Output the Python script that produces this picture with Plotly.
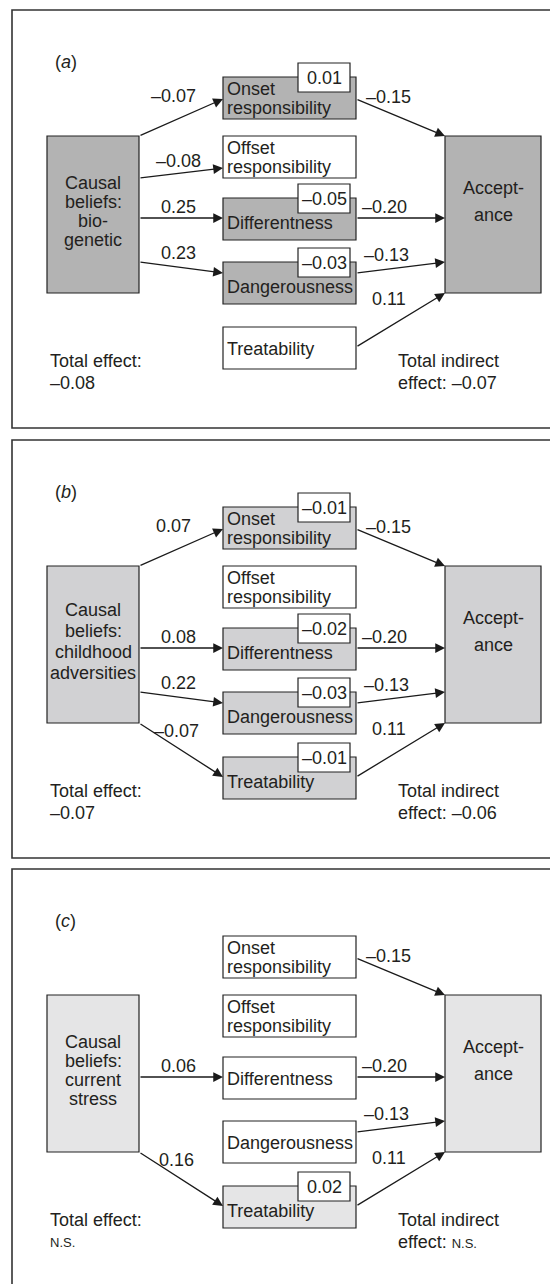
import plotly.graph_objects as go

# ---------------- data ----------------
panel_letters = ["a", "b", "c"]
cause_labels = [
    "Causal\nbeliefs:\nbio-\ngenetic",
    "Causal\nbeliefs:\nchildhood\nadversities",
    "Causal\nbeliefs:\ncurrent\nstress",
]
mediator_labels = ["Onset\nresponsibility", "Offset\nresponsibility",
                   "Differentness", "Dangerousness", "Treatability"]
outcome_label = "Accept-\nance"

# cause -> mediator path coefficients (None = no path drawn)
path_a_biogenetic = [-0.07, -0.08, 0.25, 0.23, None]
path_a_childhood = [0.07, None, 0.08, 0.22, -0.07]
path_a_stress = [None, None, 0.06, None, 0.16]
# mediator -> acceptance path coefficients (same in all panels)
path_b = [-0.15, None, -0.20, -0.13, 0.11]
# indirect effects through each mediator
indirect_biogenetic = [0.01, None, -0.05, -0.03, None]
indirect_childhood = [-0.01, None, -0.02, -0.03, -0.01]
indirect_stress = [None, None, None, None, 0.02]
# totals
total_effect = [-0.08, -0.07, "n.s."]
total_indirect = [-0.07, -0.06, "n.s."]

paths_a = [path_a_biogenetic, path_a_childhood, path_a_stress]
indirects = [indirect_biogenetic, indirect_childhood, indirect_stress]

# ---------------- layout / style ----------------
W, H = 558, 1284
PAGE_MARGIN = 8  # default body margin of the html page
PANEL_TOP = [10, 440, 869]
PANEL_H = 418
FILLS = ["#b3b3b3", "#d1d1d3", "#e5e5e6"]
FONT = "Liberation Sans, Arial, sans-serif"
FS = 18
TXT = "#231f20"

CAUSE_BOX = (47, 139, 126, 283)
OUT_BOX = (445, 541, 126, 283)
MED_X = (223, 356)
MED_Y = [(67, 109), (126, 168), (188, 230), (252, 294), (317, 359)]
SMALL_X = (298, 350)
# arrow geometry (relative to panel top)
CAUSE_TAIL_Y = [126, 168, 208, 252, 283]
MED_HEAD_Y = [89, 158, 208, 263, 337]
MED_TAIL_Y = [89, 147, 208, 263, 337]
OUT_HEAD_Y = [126, 147, 208, 252, 283]
A_LABEL = [(173, 86), (178, 151), (178, 197), (178, 243), (176, 291)]
B_LABEL = [(388, 87), (386, 140), (384, 197), (386, 245), (389, 289)]
CAUSE_LINE_SP = [19, 21, 19]


def fmt(v):
    if isinstance(v, str):
        return "<span style='font-size:13px'>%s</span>" % v.upper()
    return ("%.2f" % v).replace("-", "\u2013")


shapes = []
annotations = []


def rect(x0, x1, y0, y1, fill, lw=1.2, color="#222"):
    shapes.append(dict(type="rect", xref="x", yref="y", x0=x0, x1=x1, y0=y0, y1=y1,
                       fillcolor=fill, line=dict(color=color, width=lw), layer="above"))


def text(x, y, s, xanchor="center", size=FS, yanchor="middle"):
    annotations.append(dict(x=x, y=y, xref="x", yref="y", text=s, showarrow=False,
                            xanchor=xanchor, yanchor=yanchor,
                            font=dict(family=FONT, size=size, color=TXT)))


def arrow(x0, y0, x1, y1):
    annotations.append(dict(x=x1, y=y1, ax=x0, ay=y0, xref="x", yref="y",
                            axref="x", ayref="y", text="", showarrow=True,
                            arrowhead=2, arrowsize=1.5, arrowwidth=1.3,
                            arrowcolor="#1a1a1a", standoff=0, startstandoff=0))


for p, top in enumerate(PANEL_TOP):
    # frame
    rect(12, 562, top, top + PANEL_H, "rgba(0,0,0,0)", lw=1.6, color="#333")
    text(53, top + 52, "(<i>%s</i>)" % panel_letters[p], xanchor="left")

    # cause box
    x0, x1, y0, y1 = CAUSE_BOX
    rect(x0, x1, top + y0, top + y1, FILLS[p])
    lines = cause_labels[p].split("\n")
    sp = CAUSE_LINE_SP[p]
    c = top + 201
    for i, ln in enumerate(lines):
        text((x0 + x1) / 2, c + (i - (len(lines) - 1) / 2) * sp, ln)

    # outcome box
    x0, x1, y0, y1 = OUT_BOX
    rect(x0, x1, top + y0, top + y1, FILLS[p])
    for i, ln in enumerate(outcome_label.split("\n")):
        text((x0 + x1) / 2, top + 178 + i * 27, ln)

    # mediators
    for m, lab in enumerate(mediator_labels):
        my0, my1 = MED_Y[m]
        ind = indirects[p][m]
        fill = FILLS[p] if ind is not None else "white"
        rect(MED_X[0], MED_X[1], top + my0, top + my1, fill)
        lines = lab.split("\n")
        mid = top + (my0 + my1) / 2
        if len(lines) == 2:
            text(MED_X[0] + 2, mid - 9, lines[0], xanchor="left")
            text(MED_X[0] + 2, mid + 10, lines[1], xanchor="left")
        else:
            text(MED_X[0] + 2, mid + (4 if ind is not None else 1), lines[0], xanchor="left")
        if ind is not None:
            sy0 = top + my0 - 14
            rect(SMALL_X[0], SMALL_X[1], sy0, sy0 + 29, "white")
            text((SMALL_X[0] + SMALL_X[1]) / 2, sy0 + 15, fmt(ind))

        a = paths_a[p][m]
        if a is not None:
            arrow(CAUSE_BOX[1], top + CAUSE_TAIL_Y[m], MED_X[0], top + MED_HEAD_Y[m])
            text(A_LABEL[m][0], top + A_LABEL[m][1], fmt(a))
        b = path_b[m]
        if b is not None:
            arrow(MED_X[1], top + MED_TAIL_Y[m], OUT_BOX[0], top + OUT_HEAD_Y[m])
            text(B_LABEL[m][0], top + B_LABEL[m][1], fmt(b))

    # totals
    text(48, top + 351, "Total effect:", xanchor="left")
    text(48, top + 373, fmt(total_effect[p]), xanchor="left")
    text(396, top + 351, "Total indirect", xanchor="left")
    text(396, top + 373, "effect: " + fmt(total_indirect[p]), xanchor="left")

fig = go.Figure()
fig.update_layout(
    width=W - PAGE_MARGIN, height=H - PAGE_MARGIN, margin=dict(l=0, r=0, t=0, b=0),
    paper_bgcolor="white", plot_bgcolor="white",
    xaxis=dict(range=[PAGE_MARGIN, W], visible=False, fixedrange=True),
    yaxis=dict(range=[H, PAGE_MARGIN], visible=False, fixedrange=True),
    shapes=shapes, annotations=annotations, showlegend=False,
)
fig.write_html("out.html")
